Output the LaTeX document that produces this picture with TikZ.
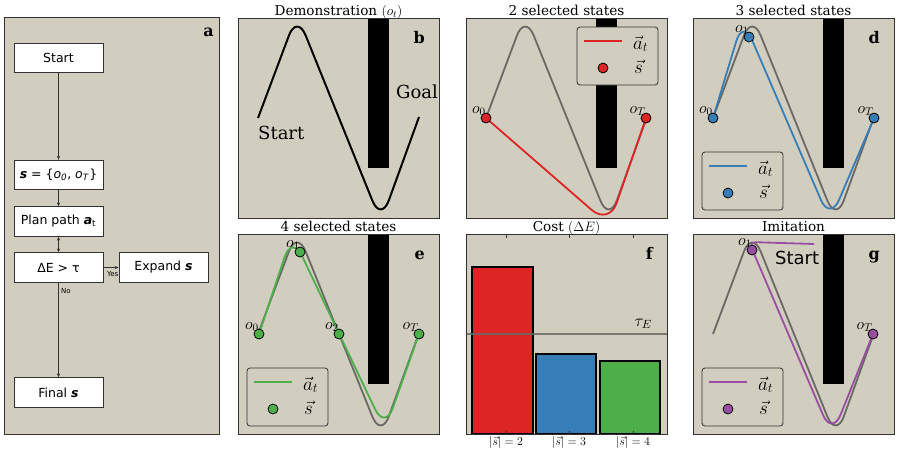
\RequirePackage{fix-cm}
\documentclass[tikz,border=0pt]{standalone}
\usepackage[no-math]{fontspec}
\setmainfont{DejaVu Serif}
\setsansfont{DejaVu Sans}
\usetikzlibrary{arrows.meta}

\definecolor{tanbg}{RGB}{210,206,191}
\definecolor{framecol}{RGB}{50,50,50}
\definecolor{refgray}{RGB}{105,105,102}
\definecolor{setred}{RGB}{221,37,37}
\definecolor{setblue}{RGB}{55,126,184}
\definecolor{setgreen}{RGB}{77,175,74}
\definecolor{setpurple}{RGB}{152,78,163}

\newcommand\fsz[1]{\fontsize{#1}{#1}\selectfont}

% legend: prefix, colour, top-left corner
\newcommand\planKey[4]{%
  \begin{scope}[shift={(#3,#4)}]
    \draw[keybox] (0,0) rectangle (81,58);
    \draw[#2, line width=1.8pt] (7,14) -- (45,14);
    \node[keylabel] (#1-keya) at (56,22) {\(\vec{a}_t\)};
    \node[state, fill=#2] (#1-keydot) at (26,41) {};
    \node[keylabel] (#1-keys) at (57,46) {\(\vec{s}\)};
  \end{scope}}

% the demonstrated trajectory, in panel coordinates
\newcommand\demoPath{(20,100) -- (59,-4) -- (143,204) -- (181,99)}

\begin{document}
\begin{tikzpicture}[x=1pt,y=-1pt,
  panelbg/.style={fill=tanbg},
  panelframe/.style={draw=framecol, line width=1pt},
  wall/.style={fill=black},
  demo/.style={draw=black, line width=2pt, rounded corners=23pt},
  refpath/.style={draw=refgray, line width=1.8pt, rounded corners=23pt},
  plan/.style={line width=1.8pt, rounded corners=23pt},
  keybox/.style={draw=framecol, line width=0.8pt, fill=tanbg, rounded corners=3pt},
  state/.style={circle, draw=black, line width=0.8pt, minimum size=10pt, inner sep=0pt},
  olabel/.style={anchor=base east, font=\fsz{16}, inner sep=0pt},
  keylabel/.style={anchor=base west, font=\fsz{19}, inner sep=0pt},
  ptitle/.style={anchor=base, font=\fsz{13.6}, inner sep=0pt},
  tag/.style={anchor=base east, font=\fsz{16}\bfseries, inner sep=0pt},
  bigtext/.style={anchor=base west, font=\fsz{18}, inner sep=0pt},
  flowbox/.style={draw=framecol, fill=white, line width=0.8pt, minimum width=89pt,
    minimum height=29.5pt, font=\sffamily\fsz{12.5}, inner sep=0pt},
  flow/.style={draw=framecol, line width=0.8pt, -{Stealth[length=4pt,width=3.2pt]}},
  flowboth/.style={draw=framecol, line width=0.8pt,
    {Stealth[length=4pt,width=3.2pt]}-{Stealth[length=4pt,width=3.2pt]}},
  tiny/.style={font=\sffamily\fsz{7}, inner sep=0pt},
  bar/.style={draw=black, line width=1.5pt},
  tick/.style={draw=framecol, line width=0.6pt},
  ticklabel/.style={anchor=north, font=\fsz{12}, inner sep=0pt}
]
\useasboundingbox (0,0) rectangle (901,453);
\fill[white] (0,0) rectangle (901,453);

% ---------------- a: flowchart ----------------
\fill[panelbg] (4,17) rectangle (219,434);
\draw[panelframe] (4,17) rectangle (219,434);
\node[tag] (a-tag) at (214,36) {a};
\node[flowbox] (start) at (58.5,58) {Start};
\node[flowbox] (init) at (58.5,175)
  {{\bfseries\itshape s} = \{\textit{o}\textsubscript{\textit{0}}, \textit{o}\textsubscript{\textit{T}}\}};
\node[flowbox] (plan) at (58.5,221.5) {Plan path {\bfseries\itshape a}\textsubscript{t}};
\node[flowbox] (test) at (58.5,267.5) {ΔE > τ};
\node[flowbox] (expand) at (163.5,267.5) {Expand {\bfseries\itshape s}};
\node[flowbox] (final) at (58.5,392.5) {Final {\bfseries\itshape s}};
\draw[flow] (start) -- (init);
\draw[flow] (init) -- (plan);
\draw[flowboth] (plan) -- (test);
\draw[flow] (test) -- (expand);
\draw[flow] (test) -- (final);
\node[tiny, anchor=east] (yes) at (118.5,273.5) {Yes};
\node[tiny, anchor=west] (no) at (61,290.5) {No};

% ---------------- b: demonstration ----------------
\begin{scope}[shift={(238,18)}]
  \fill[panelbg] (0,0) rectangle (201,200);
  \fill[wall] (130,0) rectangle (151,150);
  \draw[demo] \demoPath;
  \node[bigtext] (b-start) at (20,121) {Start};
  \node[bigtext] (b-goal) at (158,80) {Goal};
  \node[tag] (b-tag) at (187,25) {b};
  \draw[panelframe] (0,0) rectangle (201,200);
  \node[ptitle] (b-title) at (100.5,-3) {Demonstration \((o_t)\)};
\end{scope}

% ---------------- c: two states ----------------
\begin{scope}[shift={(466,18)}]
  \fill[panelbg] (0,0) rectangle (201,200);
  \fill[wall] (130,0) rectangle (151,150);
  \draw[refpath] \demoPath;
  \draw[plan, setred] (20,100) -- (143,207) -- (180,100);
  \node[olabel] (c-l0) at (20,95) {\(o_0\)};
  \node[olabel] (c-lT) at (180,95) {\(o_T\)};
  \node[state, fill=setred] (c-o0) at (20,100) {};
  \node[state, fill=setred] (c-oT) at (180,100) {};
  \planKey{c}{setred}{111}{9}
  \draw[panelframe] (0,0) rectangle (201,200);
  \node[ptitle] (c-title) at (100.5,-3) {2 selected states};
\end{scope}

% ---------------- d: three states ----------------
\begin{scope}[shift={(693,18)}]
  \fill[panelbg] (0,0) rectangle (201,200);
  \fill[wall] (130,0) rectangle (151,150);
  \draw[refpath] \demoPath;
  \draw[plan, setblue] (20,100) -- (50,1) -- (137,203) -- (181,100);
  \node[olabel] (d-l0) at (20,95) {\(o_0\)};
  \node[olabel] (d-l1) at (56,14) {\(o_1\)};
  \node[olabel] (d-lT) at (181,95) {\(o_T\)};
  \node[state, fill=setblue] (d-o0) at (20,100) {};
  \node[state, fill=setblue] (d-o1) at (56,19) {};
  \node[state, fill=setblue] (d-oT) at (181,100) {};
  \planKey{d}{setblue}{9}{134}
  \node[tag] (d-tag) at (187,25) {d};
  \draw[panelframe] (0,0) rectangle (201,200);
  \node[ptitle] (d-title) at (100.5,-3) {3 selected states};
\end{scope}

% ---------------- e: four states ----------------
\begin{scope}[shift={(238,234)}]
  \fill[panelbg] (0,0) rectangle (201,200);
  \fill[wall] (130,0) rectangle (151,150);
  \draw[refpath] \demoPath;
  \draw[plan, setgreen] (21,100) -- (54,1) -- (147,196) -- (181,100);
  \node[olabel] (e-l0) at (21,95) {\(o_0\)};
  \node[olabel] (e-l1) at (62,13) {\(o_1\)};
  \node[olabel] (e-l2) at (101,95) {\(o_2\)};
  \node[olabel] (e-lT) at (181,95) {\(o_T\)};
  \node[state, fill=setgreen] (e-o0) at (21,100) {};
  \node[state, fill=setgreen] (e-o1) at (62,18) {};
  \node[state, fill=setgreen] (e-o2) at (101,100) {};
  \node[state, fill=setgreen] (e-oT) at (181,100) {};
  \planKey{e}{setgreen}{9}{134}
  \node[tag] (e-tag) at (187,25) {e};
  \draw[panelframe] (0,0) rectangle (201,200);
  \node[ptitle] (e-title) at (100.5,-3) {4 selected states};
\end{scope}

% ---------------- f: cost bars ----------------
\begin{scope}[shift={(466,234)}]
  \fill[panelbg] (0,0) rectangle (201,200);
  \filldraw[bar, fill=setred] (6,33) rectangle (67,200);
  \filldraw[bar, fill=setblue] (70,120) rectangle (130,200);
  \filldraw[bar, fill=setgreen] (134,127) rectangle (194,200);
  \draw[refgray, line width=1.2pt, opacity=0.85] (0,100) -- (201,100);
  \node[anchor=base east, font=\fsz{17}, inner sep=0pt] (f-tau) at (186,92) {\(\tau_E\)};
  \foreach \tx in {40,103,167} {
    \draw[tick] (\tx,0) -- (\tx,3.5);
    \draw[tick] (\tx,200) -- (\tx,196.5);
  }
  \node[ticklabel] (f-t2) at (40,202.5) {\(|\vec{s}|=2\)};
  \node[ticklabel] (f-t3) at (103,202.5) {\(|\vec{s}|=3\)};
  \node[ticklabel] (f-t4) at (167,202.5) {\(|\vec{s}|=4\)};
  \node[tag] (f-tag) at (187,25) {f};
  \draw[panelframe] (0,0) rectangle (201,200);
  \node[ptitle] (f-title) at (100.5,-3) {Cost \((\Delta E)\)};
\end{scope}

% ---------------- g: imitation ----------------
\begin{scope}[shift={(693,234)}]
  \fill[panelbg] (0,0) rectangle (201,200);
  \fill[wall] (130,0) rectangle (151,150);
  \draw[refpath] \demoPath;
  \draw[plan, setpurple, rounded corners=7pt] (121,10) -- (56,8)
    [rounded corners=23pt] -- (139,202) -- (180,100);
  \node[bigtext, font=\sffamily\fsz{18}] (g-start) at (82,30) {Start};
  \node[olabel] (g-l1) at (59,11) {\(o_1\)};
  \node[olabel] (g-lT) at (180,95) {\(o_T\)};
  \node[state, fill=setpurple] (g-o1) at (59,16) {};
  \node[state, fill=setpurple] (g-oT) at (180,100) {};
  \planKey{g}{setpurple}{9}{134}
  \node[tag] (g-tag) at (187,25) {g};
  \draw[panelframe] (0,0) rectangle (201,200);
  \node[ptitle] (g-title) at (100.5,-3) {Imitation};
\end{scope}
\end{tikzpicture}
\end{document}
